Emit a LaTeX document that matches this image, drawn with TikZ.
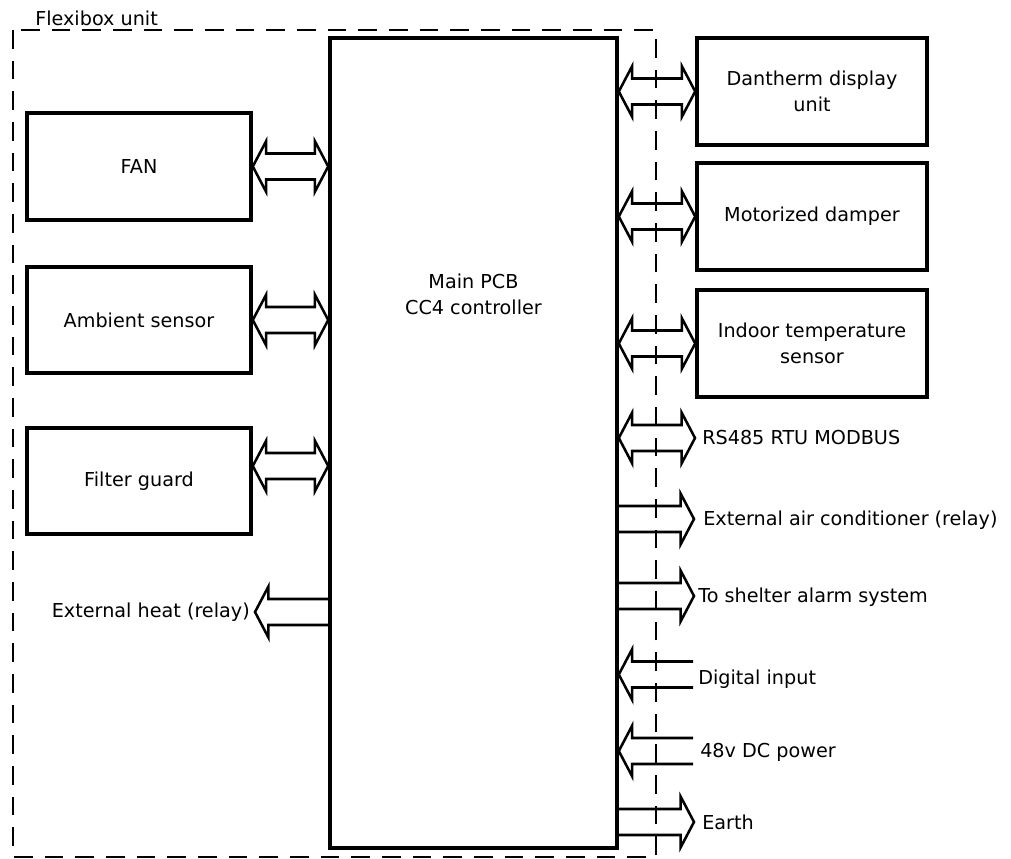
\documentclass[tikz,border=0pt]{standalone}
\usepackage{fontspec}
\setmainfont{DejaVu Sans}
\usetikzlibrary{calc}
\newcommand\lbl{\fontsize{14.4}{19.5}\selectfont}
\tikzset{
  box/.style={draw, line width=2.7pt, minimum width=168pt, minimum height=80.25pt, inner sep=0pt, align=center, font=\lbl},
  blk/.style={draw, line width=1.9pt, line join=miter},
  lab/.style={inner sep=0pt, font=\lbl, anchor=west},
  frame/.style={draw, line width=1.9pt, dash pattern=on 14pt off 9pt},
}
\newcommand\dbar[2]{\path[blk] let \p1=(#1), \p2=(#2) in
  (\x1,\y1) -- (\x1+10pt,\y1+19pt) -- (\x1+10pt,\y1+9.75pt) -- (\x2-10pt,\y1+9.75pt) -- (\x2-10pt,\y1+19pt) -- (\x2,\y1)
  -- (\x2-10pt,\y1-19pt) -- (\x2-10pt,\y1-9.75pt) -- (\x1+10pt,\y1-9.75pt) -- (\x1+10pt,\y1-19pt) -- cycle;}
\newcommand\rar[2]{\path[blk] let \p1=(#1), \p2=(#2) in
  (\x1,\y1+9.75pt) -- (\x2-10pt,\y1+9.75pt) -- (\x2-10pt,\y1+19pt) -- (\x2,\y1) -- (\x2-10pt,\y1-19pt) -- (\x2-10pt,\y1-9.75pt) -- (\x1,\y1-9.75pt);}
\newcommand\lar[2]{\path[blk] let \p1=(#1), \p2=(#2) in
  (\x2,\y1+9.75pt) -- (\x1+10pt,\y1+9.75pt) -- (\x1+10pt,\y1+19pt) -- (\x1,\y1) -- (\x1+10pt,\y1-19pt) -- (\x1+10pt,\y1-9.75pt) -- (\x2,\y1-9.75pt);}
\begin{document}
\begin{tikzpicture}[x=0.75pt, y=-0.75pt]
\useasboundingbox (0,0) rectangle (1011,859);
% frame
\draw[frame] (13,30) rectangle (656,857);
\node[font=\lbl, anchor=west, inner sep=0pt] (flex) at (35,18) {Flexibox unit};
% main PCB
\node[draw, line width=2.7pt, minimum width=215.25pt, minimum height=607.5pt, inner sep=0pt] (pcb) at (473.5,443) {};
\node[font=\lbl, align=center] (pcbtext) at (473.5,294) {Main PCB\\CC4 controller};
% left boxes
\node[box, minimum height=80.25pt] (fan) at (139,166.5) {FAN};
\node[box, minimum height=79.5pt] (amb) at (139,320) {Ambient sensor};
\node[box, minimum height=79.5pt] (fil) at (139,481) {Filter guard};
% right boxes
\node[box, minimum width=172.5pt] (dan) at (812,91.5) {Dantherm display\\unit};
\node[box, minimum width=172.5pt] (mot) at (812,216.5) {Motorized damper};
\node[box, minimum width=172.5pt] (ind) at (812,343.5) {Indoor temperature\\sensor};
% labels
\coordinate (rsT) at (695,438);
\node[lab] (rs) at (702,438) {RS485 RTU MODBUS};
\coordinate (acT) at (694,519);
\node[lab] (ac) at (703,520) {External air conditioner (relay)};
\coordinate (shT) at (694,596);
\node[lab] (sh) at (698,597) {To shelter alarm system};
\coordinate (diB) at (693,674.5);
\node[lab] (di) at (698,679) {Digital input};
\coordinate (dcB) at (693,751);
\node[lab] (dc) at (700,752) {48v DC power};
\coordinate (eaT) at (694,822);
\node[lab] (ea) at (702,822) {Earth};
\coordinate (ehT) at (255,612);
\node[lab, anchor=east] (eh) at (250,612) {External heat (relay)};
\coordinate (filA) at ($(fil.east)+(0,-15)$);
% left arrows
\dbar{fan.east}{pcb.west |- fan.east}
\dbar{amb.east}{pcb.west |- amb.east}
\dbar{filA}{pcb.west |- filA}
\lar{ehT}{pcb.west |- ehT}
% right arrows
\dbar{pcb.east |- dan.west}{dan.west}
\dbar{pcb.east |- mot.west}{mot.west}
\dbar{pcb.east |- ind.west}{ind.west}
\dbar{pcb.east |- rsT}{rsT}
\rar{pcb.east |- acT}{acT}
\rar{pcb.east |- shT}{shT}
\lar{pcb.east |- diB}{diB}
\lar{pcb.east |- dcB}{dcB}
\rar{pcb.east |- eaT}{eaT}
\end{tikzpicture}
\end{document}
